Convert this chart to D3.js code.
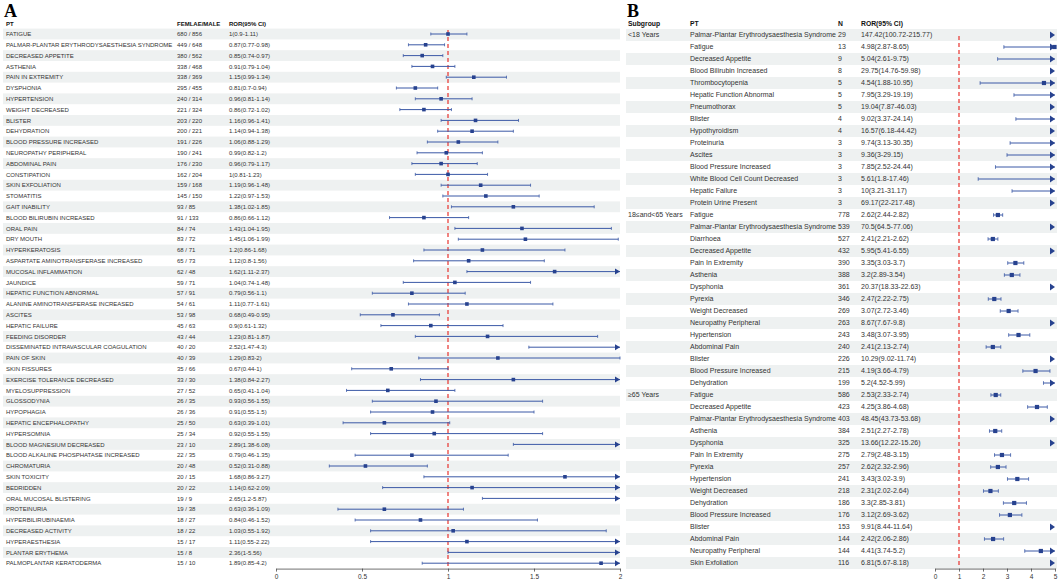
<!DOCTYPE html>
<html><head><meta charset="utf-8">
<script src="https://cdn.jsdelivr.net/npm/d3@7"></script>
<style>
body{margin:0;background:#fff}
text{font-family:"Liberation Sans",Arial,sans-serif}
</style>
</head><body>
<svg id="c" width="1059" height="581"></svg>
<script>
// ---------- Panel A data ----------
const aPT = ["FATIGUE","PALMAR-PLANTAR ERYTHRODYSAESTHESIA SYNDROME","DECREASED APPETITE","ASTHENIA","PAIN IN EXTREMITY","DYSPHONIA","HYPERTENSION","WEIGHT DECREASED","BLISTER","DEHYDRATION","BLOOD PRESSURE INCREASED","NEUROPATHY PERIPHERAL","ABDOMINAL PAIN","CONSTIPATION","SKIN EXFOLIATION","STOMATITIS","GAIT INABILITY","BLOOD BILIRUBIN INCREASED","ORAL PAIN","DRY MOUTH","HYPERKERATOSIS","ASPARTATE AMINOTRANSFERASE INCREASED","MUCOSAL INFLAMMATION","JAUNDICE","HEPATIC FUNCTION ABNORMAL","ALANINE AMINOTRANSFERASE INCREASED","ASCITES","HEPATIC FAILURE","FEEDING DISORDER","DISSEMINATED INTRAVASCULAR COAGULATION","PAIN OF SKIN","SKIN FISSURES","EXERCISE TOLERANCE DECREASED","MYELOSUPPRESSION","GLOSSODYNIA","HYPOPHAGIA","HEPATIC ENCEPHALOPATHY","HYPERSOMNIA","BLOOD MAGNESIUM DECREASED","BLOOD ALKALINE PHOSPHATASE INCREASED","CHROMATURIA","SKIN TOXICITY","BEDRIDDEN","ORAL MUCOSAL BLISTERING","PROTEINURIA","HYPERBILIRUBINAEMIA","DECREASED ACTIVITY","HYPERAESTHESIA","PLANTAR ERYTHEMA","PALMOPLANTAR KERATODERMA"];
const aFemale = [680,449,380,338,338,295,240,221,203,200,191,190,176,162,159,145,93,91,84,83,68,65,62,59,57,54,53,45,43,40,40,35,33,27,26,26,25,25,23,22,20,20,20,19,19,18,18,15,15,15];
const aMale = [856,648,562,468,369,455,314,324,220,221,226,241,230,204,168,150,85,133,74,72,71,73,48,71,91,61,98,63,44,20,39,66,30,52,35,36,50,34,10,35,48,15,22,9,38,27,22,17,8,10];
const aROR = [1,0.87,0.85,0.91,1.15,0.81,0.96,0.86,1.16,1.14,1.06,0.99,0.96,1,1.19,1.22,1.38,0.86,1.43,1.45,1.2,1.12,1.62,1.04,0.79,1.11,0.68,0.9,1.23,2.52,1.29,0.67,1.38,0.65,0.93,0.91,0.63,0.92,2.89,0.79,0.52,1.68,1.14,2.65,0.63,0.84,1.03,1.11,2.36,1.89];
const aLow = [0.9,0.77,0.74,0.79,0.99,0.7,0.81,0.72,0.96,0.94,0.88,0.82,0.79,0.81,0.96,0.97,1.02,0.66,1.04,1.06,0.86,0.8,1.11,0.74,0.56,0.77,0.49,0.61,0.81,1.47,0.83,0.44,0.84,0.41,0.56,0.55,0.39,0.55,1.38,0.46,0.31,0.86,0.62,1.2,0.36,0.46,0.55,0.55,1,0.85];
const aHigh = [1.11,0.98,0.97,1.04,1.34,0.94,1.14,1.02,1.41,1.38,1.29,1.2,1.17,1.23,1.48,1.53,1.85,1.12,1.95,1.99,1.68,1.56,2.37,1.48,1.1,1.61,0.95,1.32,1.87,4.3,2,1,2.27,1.04,1.55,1.5,1.01,1.55,6.08,1.35,0.88,3.27,2.09,5.87,1.09,1.52,1.92,2.22,5.56,4.2];
const aTicks = [0,0.5,1,1.5,2];

// ---------- Panel B data ----------
const bSubgroup = ["<18 Years","18≤and<65 Years","≥65 Years"];
const bGroupOf = [0,0,0,0,0,0,0,0,0,0,0,0,0,0,0, 1,1,1,1,1,1,1,1,1,1,1,1,1,1,1, 2,2,2,2,2,2,2,2,2,2,2,2,2,2,2];
const bPT = ["Palmar-Plantar Erythrodysaesthesia Syndrome","Fatigue","Decreased Appetite","Blood Bilirubin Increased","Thrombocytopenia","Hepatic Function Abnormal","Pneumothorax","Blister","Hypothyroidism","Proteinuria","Ascites","Blood Pressure Increased","White Blood Cell Count Decreased","Hepatic Failure","Protein Urine Present",
 "Fatigue","Palmar-Plantar Erythrodysaesthesia Syndrome","Diarrhoea","Decreased Appetite","Pain In Extremity","Asthenia","Dysphonia","Pyrexia","Weight Decreased","Neuropathy Peripheral","Hypertension","Abdominal Pain","Blister","Blood Pressure Increased","Dehydration",
 "Fatigue","Decreased Appetite","Palmar-Plantar Erythrodysaesthesia Syndrome","Asthenia","Dysphonia","Pain In Extremity","Pyrexia","Hypertension","Weight Decreased","Dehydration","Blood Pressure Increased","Blister","Abdominal Pain","Neuropathy Peripheral","Skin Exfoliation"];
const bN = [29,13,9,8,5,5,5,4,4,3,3,3,3,3,3, 778,539,527,432,390,388,361,346,269,263,243,240,226,215,199, 586,423,403,384,325,275,257,241,218,186,176,153,144,144,116];
const bROR = [147.42,4.98,5.04,29.75,4.54,7.95,19.04,9.02,16.57,9.74,9.36,7.85,5.61,10,69.17, 2.62,70.5,2.41,5.95,3.35,3.2,20.37,2.47,3.07,8.67,3.48,2.41,10.29,4.19,5.2, 2.53,4.25,48.45,2.51,13.66,2.79,2.62,3.43,2.31,3.3,3.12,9.91,2.42,4.41,6.81];
const bLow = [100.72,2.87,2.61,14.76,1.88,3.29,7.87,3.37,6.18,3.13,3,2.52,1.8,3.21,22, 2.44,64.5,2.21,5.41,3.03,2.89,18.33,2.22,2.72,7.67,3.07,2.13,9.02,3.66,4.52, 2.33,3.86,43.73,2.27,12.22,2.48,2.32,3.02,2.02,2.85,2.69,8.44,2.06,3.74,5.67];
const bHigh = [215.77,8.65,9.75,59.98,10.95,19.19,46.03,24.14,44.42,30.35,29.15,24.44,17.46,31.17,217.48, 2.82,77.06,2.62,6.55,3.7,3.54,22.63,2.75,3.46,9.8,3.95,2.74,11.74,4.79,5.99, 2.74,4.68,53.68,2.78,15.26,3.15,2.96,3.9,2.64,3.81,3.62,11.64,2.86,5.2,8.18];
const bTicks = [0,1,2,3,4,5];

// ---------- drawing ----------
const svg = d3.select("#c");
const STRIPE = "#eef1f1", TXT = "#333", BOX = "#27428f", LINE = "#3b59a6", REF = "#e8332d";
const fmt = v => String(v);

function forest(g, x, y, lo, hi, est, xmax, box, cap, arr) {
  const n = est.length;
  for (let i = 0; i < n; i++) {
    const cy = y(i) + y.bandwidth() / 2;
    if (lo[i] < xmax) {
      const x1 = x(lo[i]), x2 = x(Math.min(hi[i], xmax));
      g.append("line").attr("x1", x1).attr("x2", x2).attr("y1", cy).attr("y2", cy)
        .attr("stroke", LINE).attr("stroke-width", 1);
      g.append("line").attr("x1", x1).attr("x2", x1).attr("y1", cy - cap).attr("y2", cy + cap)
        .attr("stroke", LINE).attr("stroke-width", 0.8);
      if (hi[i] <= xmax) {
        g.append("line").attr("x1", x2).attr("x2", x2).attr("y1", cy - cap).attr("y2", cy + cap)
          .attr("stroke", LINE).attr("stroke-width", 0.8);
      }
    }
    if (hi[i] > xmax) {
      const xt = x(xmax);
      g.append("path").attr("d", `M${xt - arr[0]},${cy - arr[1]}L${xt},${cy}L${xt - arr[0]},${cy + arr[1]}Z`)
        .attr("fill", BOX);
    }
    if (est[i] <= xmax) {
      g.append("rect").attr("x", x(est[i]) - box / 2).attr("y", cy - box / 2)
        .attr("width", box).attr("height", box).attr("fill", BOX);
    }
  }
}

// ===== Panel A =====
const gA = svg.append("g");
const yA = d3.scaleBand().domain(d3.range(aPT.length)).range([28.6, 568.6]);
const xA = d3.scaleLinear().domain([0, 2]).range([276, 620]);
gA.append("text").attr("x", 4).attr("y", 16.5).text("A")
  .style("font-family", "'Liberation Serif','Times New Roman',serif").style("font-weight", "bold").style("font-size", "18px");
gA.selectAll("rect.s").data(d3.range(aPT.length).filter(i => i % 2 === 0)).join("rect")
  .attr("x", 3).attr("width", 617).attr("y", i => yA(i)).attr("height", yA.bandwidth()).attr("fill", STRIPE);
const hdrA = [["PT", 6], ["FEMLAE/MALE", 177], ["ROR(95% CI)", 229]];
gA.selectAll("text.h").data(hdrA).join("text").attr("x", d => d[1]).attr("y", 25.8)
  .text(d => d[0]).style("font-size", "6px").style("font-weight", "bold").attr("fill", "#111");
const rowsA = gA.selectAll("g.r").data(aPT).join("g")
  .attr("transform", (d, i) => `translate(0,${yA(i) + yA.bandwidth() / 2})`);
rowsA.append("text").attr("x", 6).attr("dy", "0.35em").text(d => d).style("font-size", "6px").attr("fill", TXT);
rowsA.append("text").attr("x", 177).attr("dy", "0.35em").text((d, i) => `${aFemale[i]} / ${aMale[i]}`).style("font-size", "6px").attr("fill", TXT);
rowsA.append("text").attr("x", 229).attr("dy", "0.35em").text((d, i) => `${fmt(aROR[i])}(${fmt(aLow[i])}-${fmt(aHigh[i])})`).style("font-size", "6px").attr("fill", TXT);
gA.append("line").attr("x1", xA(1)).attr("x2", xA(1)).attr("y1", 30).attr("y2", 568)
  .attr("stroke", REF).attr("stroke-width", 1.2).attr("stroke-dasharray", "4,3");
forest(gA, xA, yA, aLow, aHigh, aROR, 2, 3.6, 1.5, [5, 3]);
const axA = gA.append("g").attr("transform", "translate(0,568.6)")
  .call(d3.axisBottom(xA).tickValues(aTicks).tickFormat(d => String(d)).tickSize(3).tickSizeOuter(0));
axA.selectAll("text").style("font-size", "6.5px").attr("fill", "#333");
axA.selectAll("line,path").attr("stroke", "#333").attr("stroke-width", 0.7);

// ===== Panel B =====
const gB = svg.append("g");
const yB = d3.scaleBand().domain(d3.range(bPT.length)).range([29, 569]);
const xB = d3.scaleLinear().domain([0, 5]).range([935, 1055]);
gB.append("text").attr("x", 627).attr("y", 16.5).text("B")
  .style("font-family", "'Liberation Serif','Times New Roman',serif").style("font-weight", "bold").style("font-size", "18px");
gB.selectAll("rect.s").data(d3.range(bPT.length).filter(i => i % 2 === 0)).join("rect")
  .attr("x", 626).attr("width", 431).attr("y", i => yB(i)).attr("height", yB.bandwidth()).attr("fill", STRIPE);
const hdrB = [["Subgroup", 628], ["PT", 690], ["N", 838], ["ROR(95% CI)", 861]];
gB.selectAll("text.h").data(hdrB).join("text").attr("x", d => d[1]).attr("y", 25.8)
  .text(d => d[0]).style("font-size", "6.8px").style("font-weight", "bold").attr("fill", "#111");
const rowsB = gB.selectAll("g.r").data(bPT).join("g")
  .attr("transform", (d, i) => `translate(0,${yB(i) + yB.bandwidth() / 2})`);
rowsB.append("text").attr("x", 628).attr("dy", "0.35em")
  .text((d, i) => (i === 0 || bGroupOf[i] !== bGroupOf[i - 1]) ? bSubgroup[bGroupOf[i]] : "")
  .style("font-size", "7px").attr("fill", TXT);
rowsB.append("text").attr("x", 690).attr("dy", "0.35em").text(d => d).style("font-size", "7px").attr("fill", TXT);
rowsB.append("text").attr("x", 838).attr("dy", "0.35em").text((d, i) => bN[i]).style("font-size", "7px").attr("fill", TXT);
rowsB.append("text").attr("x", 861).attr("dy", "0.35em").text((d, i) => `${fmt(bROR[i])}(${fmt(bLow[i])}-${fmt(bHigh[i])})`).style("font-size", "7px").attr("fill", TXT);
gB.append("line").attr("x1", xB(1)).attr("x2", xB(1)).attr("y1", 36).attr("y2", 568)
  .attr("stroke", REF).attr("stroke-width", 1.2).attr("stroke-dasharray", "4,3");
forest(gB, xB, yB, bLow, bHigh, bROR, 5, 4.2, 1.8, [5, 3.5]);
const axB = gB.append("g").attr("transform", "translate(0,568.6)")
  .call(d3.axisBottom(xB).tickValues(bTicks).tickFormat(d => String(d)).tickSize(3).tickSizeOuter(0));
axB.selectAll("text").style("font-size", "6.5px").attr("fill", "#333");
axB.selectAll("line,path").attr("stroke", "#333").attr("stroke-width", 0.7);
</script>
</body></html>
